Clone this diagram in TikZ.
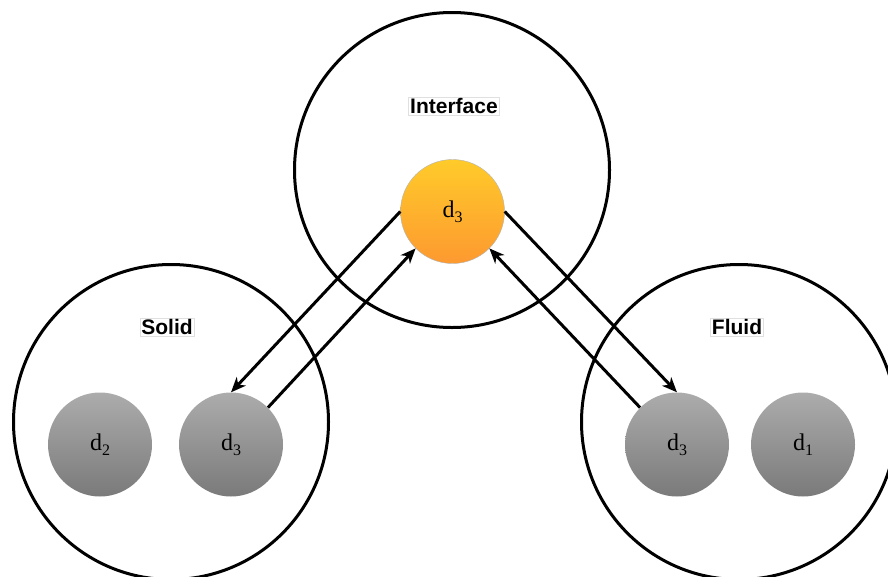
\documentclass[tikz,border=0pt]{standalone}
\usepackage{fontspec}
\setmainfont{Liberation Serif}
\newfontfamily\labelfont{Liberation Sans}
\usetikzlibrary{arrows.meta}
\definecolor{greytop}{RGB}{172,172,172}
\definecolor{greybot}{RGB}{122,122,122}
\definecolor{orangetop}{RGB}{255,203,42}
\definecolor{orangebot}{RGB}{253,153,48}
% d with a lowered index digit
\newcommand\dsub[1]{d\raisebox{-0.22em}{\fontsize{16}{16}\selectfont #1}}
\begin{document}
\begin{tikzpicture}[x=1pt,y=-1pt,
  regionring/.style={circle,draw=black,line width=3pt,minimum size=315pt,inner sep=0pt},
  ballbase/.style={circle,minimum size=104pt,inner sep=0pt,
    font=\fontsize{24}{24}\selectfont},
  greyball/.style={ballbase,top color=greytop,bottom color=greybot},
  orangeball/.style={ballbase,top color=orangetop,bottom color=orangebot,
    draw=black!30,line width=0.4pt},
  labelbox/.style={fill=white,draw=black!12,line width=0.5pt,inner sep=1.5pt,
    font=\labelfont\bfseries\fontsize{21}{21}\selectfont},
  flowarrow/.style={-{Stealth[length=15pt,width=12.5pt,inset=4.5pt]},line width=3pt}]
\useasboundingbox (0,0) rectangle (888,576);
\clip (0,0) rectangle (888,576);

% the three regions
\node[regionring] (iface) at (452,170) {};
\node[regionring] (solid) at (171,422) {};
\node[regionring] (fluid) at (739,422) {};

\node[labelbox] (ilab) at (454,106) {Interface};
\node[labelbox] (slab) at (167,327) {Solid};
\node[labelbox] (flab) at (737,327) {Fluid};

% particles
\node[orangeball] (o)  at (452.5,211.5) {\dsub{3}};
\node[greyball]   (s2) at (100,444.5) {\dsub{2}};
\node[greyball]   (s3) at (231,444.5) {\dsub{3}};
\node[greyball]   (f3) at (677,444.5) {\dsub{3}};
\node[greyball]   (f1) at (803,444.5) {\dsub{1}};

% exchange between the interface and the two sides
\draw[flowarrow] (o.west) -- (s3.north);
\draw[flowarrow] (s3.45) -- (o.225);
\draw[flowarrow] (o.east) -- (f3.north);
\draw[flowarrow] (f3.135) -- (o.315);
\end{tikzpicture}
\end{document}
